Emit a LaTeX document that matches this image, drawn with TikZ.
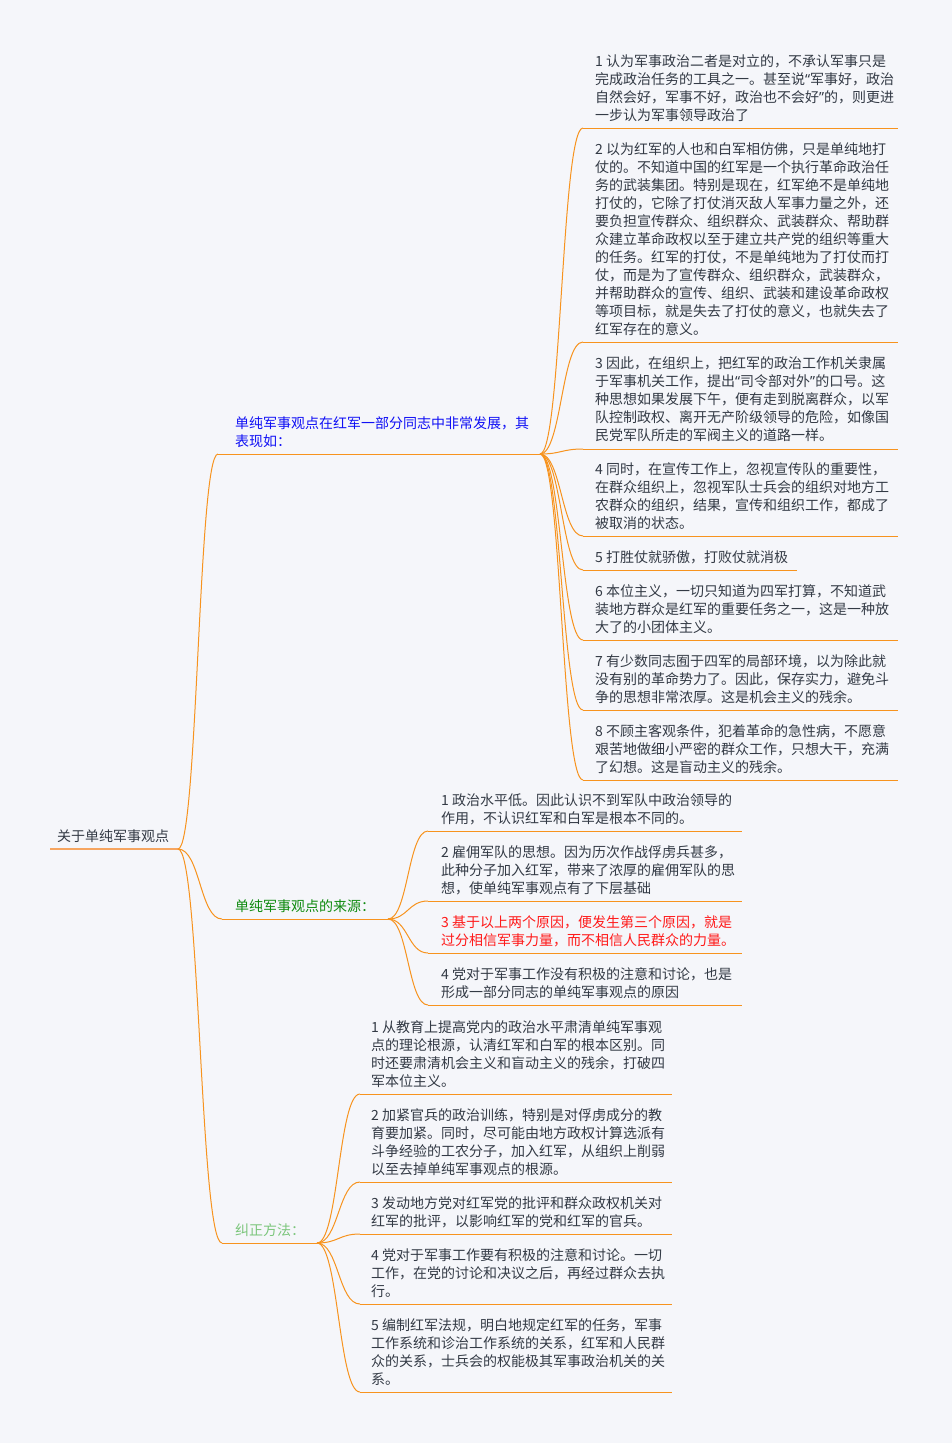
\documentclass[tikz,border=0pt]{standalone}
\usepackage{fontspec}
\setmainfont{Noto Sans CJK SC}
\newfontfamily\qfont{Noto Sans}
\usetikzlibrary{calc}
\definecolor{bgc}{HTML}{F5F6FA}
\definecolor{lineor}{HTML}{F7931E}
\definecolor{rootor}{HTML}{F6A560}
\definecolor{txtc}{HTML}{333A45}
\definecolor{bluec}{HTML}{1010F5}
\definecolor{greenc}{HTML}{0E8A0E}
\definecolor{lgreenc}{HTML}{7CC67C}
\definecolor{redc}{HTML}{FF1A1A}
\newcommand\qo{{\qfont “}}
\newcommand\qc{{\qfont ”}}
\newcommand\ml[1]{\parbox[t]{380pt}{\raggedright #1}}
\tikzset{
  txt/.style={anchor=base west, inner sep=0pt, text=txtc, font=\fontsize{14}{18}\selectfont},
  uline/.style={draw=lineor, line width=1pt},
  rline/.style={draw=rootor, line width=2.2pt},
  conn/.style={draw=lineor, line width=1pt},
  mm/.style={to path={.. controls ($(\tikztostart)!0.5!(\tikztotarget |- \tikztostart)$) and ($(\tikztostart |- \tikztotarget)!0.5!(\tikztotarget)$) .. (\tikztotarget)}}
}
\begin{document}
\begin{tikzpicture}[x=1pt,y=-1pt]
\fill[bgc] (0,0) rectangle (952,1443);
\useasboundingbox (0,0) rectangle (952,1443);

% root
\node[txt] (root) at (57,841) {关于单纯军事观点};
\coordinate (rootS) at (50,849);
\coordinate (rootE) at (178,849);

% branch A
\node[txt, text=bluec] (A) at (235,428) {\ml{单纯军事观点在红军一部分同志中非常发展，其\\表现如：}};
\coordinate (aS) at (218,454);
\coordinate (aE) at (540,454);
% branch B
\node[txt, text=greenc] (B) at (235,911) {单纯军事观点的来源：};
\coordinate (bS) at (222,919);
\coordinate (bE) at (388,919);
% branch C
\node[txt, text=lgreenc] (C) at (235,1235) {纠正方法：};
\coordinate (cS) at (222,1243);
\coordinate (cE) at (317,1243);

% A children
\node[txt] (a1) at (595,66) {\ml{1 认为军事政治二者是对立的，不承认军事只是\\完成政治任务的工具之一。甚至说\qo 军事好，政治\\自然会好，军事不好，政治也不会好\qc 的，则更进\\一步认为军事领导政治了}};
\coordinate (a1s) at (583,128); \coordinate (a1e) at (898,128);
\node[txt] (a2) at (595,154) {\ml{2 以为红军的人也和白军相仿佛，只是单纯地打\\仗的。不知道中国的红军是一个执行革命政治任\\务的武装集团。特别是现在，红军绝不是单纯地\\打仗的，它除了打仗消灭敌人军事力量之外，还\\要负担宣传群众、组织群众、武装群众、帮助群\\众建立革命政权以至于建立共产党的组织等重大\\的任务。红军的打仗，不是单纯地为了打仗而打\\仗，而是为了宣传群众、组织群众，武装群众，\\并帮助群众的宣传、组织、武装和建设革命政权\\等项目标，就是失去了打仗的意义，也就失去了\\红军存在的意义。}};
\coordinate (a2s) at (583,342); \coordinate (a2e) at (898,342);
\node[txt] (a3) at (595,368) {\ml{3 因此，在组织上，把红军的政治工作机关隶属\\于军事机关工作，提出\qo 司令部对外\qc 的口号。这\\种思想如果发展下午，便有走到脱离群众，以军\\队控制政权、离开无产阶级领导的危险，如像国\\民党军队所走的军阀主义的道路一样。}};
\coordinate (a3s) at (583,449); \coordinate (a3e) at (898,449);
\node[txt] (a4) at (595,474) {\ml{4 同时，在宣传工作上，忽视宣传队的重要性，\\在群众组织上，忽视军队士兵会的组织对地方工\\农群众的组织，结果，宣传和组织工作，都成了\\被取消的状态。}};
\coordinate (a4s) at (583,536); \coordinate (a4e) at (898,536);
\node[txt] (a5) at (595,562) {5 打胜仗就骄傲，打败仗就消极};
\coordinate (a5s) at (583,570); \coordinate (a5e) at (797,570);
\node[txt] (a6) at (595,596) {\ml{6 本位主义，一切只知道为四军打算，不知道武\\装地方群众是红军的重要任务之一，这是一种放\\大了的小团体主义。}};
\coordinate (a6s) at (583,640); \coordinate (a6e) at (898,640);
\node[txt] (a7) at (595,666) {\ml{7 有少数同志囿于四军的局部环境，以为除此就\\没有别的革命势力了。因此，保存实力，避免斗\\争的思想非常浓厚。这是机会主义的残余。}};
\coordinate (a7s) at (583,710); \coordinate (a7e) at (898,710);
\node[txt] (a8) at (595,736) {\ml{8 不顾主客观条件，犯着革命的急性病，不愿意\\艰苦地做细小严密的群众工作，只想大干，充满\\了幻想。这是盲动主义的残余。}};
\coordinate (a8s) at (583,780); \coordinate (a8e) at (898,780);

% B children
\node[txt] (b1) at (441,805) {\ml{1 政治水平低。因此认识不到军队中政治领导的\\作用，不认识红军和白军是根本不同的。}};
\coordinate (b1s) at (428,831); \coordinate (b1e) at (742,831);
\node[txt] (b2) at (441,857) {\ml{2 雇佣军队的思想。因为历次作战俘虏兵甚多，\\此种分子加入红军，带来了浓厚的雇佣军队的思\\想，使单纯军事观点有了下层基础}};
\coordinate (b2s) at (428,901); \coordinate (b2e) at (742,901);
\node[txt, text=redc] (b3) at (441,927) {\ml{3 基于以上两个原因，便发生第三个原因，就是\\过分相信军事力量，而不相信人民群众的力量。}};
\coordinate (b3s) at (428,953); \coordinate (b3e) at (742,953);
\node[txt] (b4) at (441,979) {\ml{4 党对于军事工作没有积极的注意和讨论，也是\\形成一部分同志的单纯军事观点的原因}};
\coordinate (b4s) at (428,1005); \coordinate (b4e) at (742,1005);

% C children
\node[txt] (c1) at (371,1032) {\ml{1 从教育上提高党内的政治水平肃清单纯军事观\\点的理论根源，认清红军和白军的根本区别。同\\时还要肃清机会主义和盲动主义的残余，打破四\\军本位主义。}};
\coordinate (c1s) at (360,1094); \coordinate (c1e) at (672,1094);
\node[txt] (c2) at (371,1120) {\ml{2 加紧官兵的政治训练，特别是对俘虏成分的教\\育要加紧。同时，尽可能由地方政权计算选派有\\斗争经验的工农分子，加入红军，从组织上削弱\\以至去掉单纯军事观点的根源。}};
\coordinate (c2s) at (360,1182); \coordinate (c2e) at (672,1182);
\node[txt] (c3) at (371,1208) {\ml{3 发动地方党对红军党的批评和群众政权机关对\\红军的批评，以影响红军的党和红军的官兵。}};
\coordinate (c3s) at (360,1234); \coordinate (c3e) at (672,1234);
\node[txt] (c4) at (371,1260) {\ml{4 党对于军事工作要有积极的注意和讨论。一切\\工作，在党的讨论和决议之后，再经过群众去执\\行。}};
\coordinate (c4s) at (360,1304); \coordinate (c4e) at (672,1304);
\node[txt] (c5) at (371,1330) {\ml{5 编制红军法规，明白地规定红军的任务，军事\\工作系统和诊治工作系统的关系，红军和人民群\\众的关系，士兵会的权能极其军事政治机关的关\\系。}};
\coordinate (c5s) at (360,1392); \coordinate (c5e) at (672,1392);

% underlines
\draw[rline] (rootS) -- (rootE);
\foreach \n in {a,b,c} {\draw[uline] (\n S) -- (\n E);}
\foreach \n in {a1,a2,a3,a4,a5,a6,a7,a8,b1,b2,b3,b4,c1,c2,c3,c4,c5} {\draw[uline] (\n s) -- (\n e);}

% connectors
\foreach \n in {a,b,c} {\draw[conn] (rootE) to[mm] (\n S);}
\foreach \n in {a1,a2,a3,a4,a5,a6,a7,a8} {\draw[conn] (aE) to[mm] (\n s);}
\foreach \n in {b1,b2,b3,b4} {\draw[conn] (bE) to[mm] (\n s);}
\foreach \n in {c1,c2,c3,c4,c5} {\draw[conn] (cE) to[mm] (\n s);}
\end{tikzpicture}
\end{document}
